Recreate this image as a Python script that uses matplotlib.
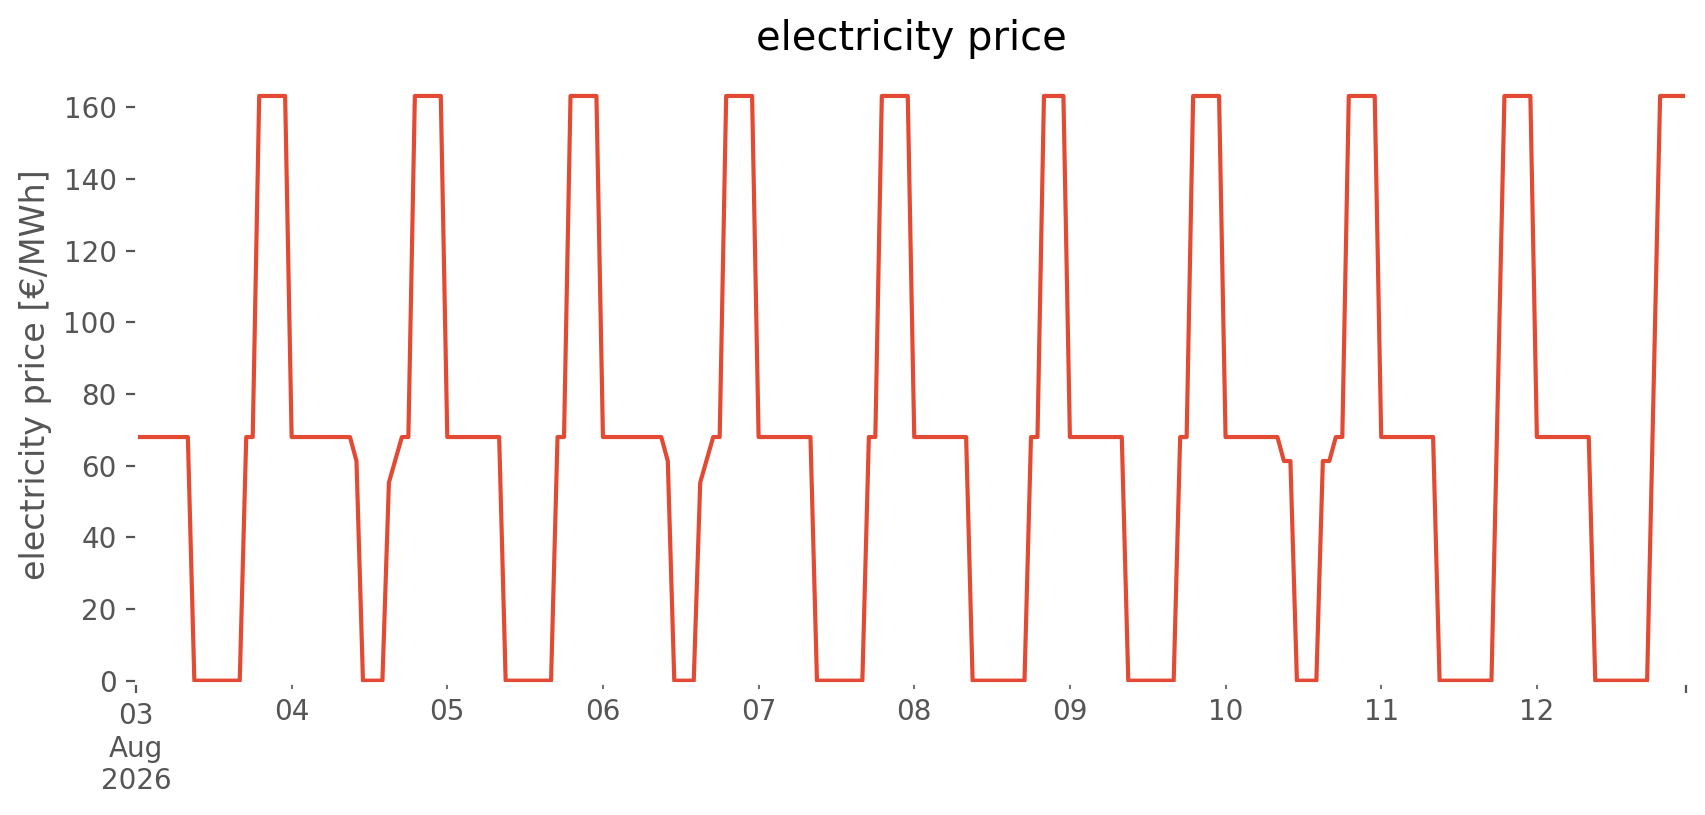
import pandas as pd
import matplotlib
matplotlib.use('Agg')
import matplotlib.pyplot as plt

plt.style.use('ggplot')

# hourly electricity price per day [€/MWh]
aug03 = [68.0, 68.0, 68.0, 68.0, 68.0, 68.0, 68.0, 68.0, 68.0, 0.0, 0.0, 0.0,
         0.0, 0.0, 0.0, 0.0, 0.0, 68.0, 68.0, 163.2, 163.2, 163.2, 163.2, 163.2]
aug04 = [68.0, 68.0, 68.0, 68.0, 68.0, 68.0, 68.0, 68.0, 68.0, 68.0, 61.3, 0.0,
         0.0, 0.0, 0.0, 55.3, 61.6, 68.0, 68.0, 163.2, 163.2, 163.2, 163.2, 163.2]
aug05 = [68.0, 68.0, 68.0, 68.0, 68.0, 68.0, 68.0, 68.0, 68.0, 0.0, 0.0, 0.0,
         0.0, 0.0, 0.0, 0.0, 0.0, 68.0, 68.0, 163.2, 163.2, 163.2, 163.2, 163.2]
aug06 = [68.0, 68.0, 68.0, 68.0, 68.0, 68.0, 68.0, 68.0, 68.0, 68.0, 61.3, 0.0,
         0.0, 0.0, 0.0, 55.3, 61.6, 68.0, 68.0, 163.2, 163.2, 163.2, 163.2, 163.2]
aug07 = [68.0, 68.0, 68.0, 68.0, 68.0, 68.0, 68.0, 68.0, 68.0, 0.0, 0.0, 0.0,
         0.0, 0.0, 0.0, 0.0, 0.0, 68.0, 68.0, 163.2, 163.2, 163.2, 163.2, 163.2]
aug08 = [68.0, 68.0, 68.0, 68.0, 68.0, 68.0, 68.0, 68.0, 68.0, 0.0, 0.0, 0.0,
         0.0, 0.0, 0.0, 0.0, 0.0, 0.0, 68.0, 68.0, 163.2, 163.2, 163.2, 163.2]
aug09 = [68.0, 68.0, 68.0, 68.0, 68.0, 68.0, 68.0, 68.0, 68.0, 0.0, 0.0, 0.0,
         0.0, 0.0, 0.0, 0.0, 0.0, 68.0, 68.0, 163.2, 163.2, 163.2, 163.2, 163.2]
aug10 = [68.0, 68.0, 68.0, 68.0, 68.0, 68.0, 68.0, 68.0, 68.0, 61.3, 61.3, 0.0,
         0.0, 0.0, 0.0, 61.3, 61.3, 68.0, 68.0, 163.2, 163.2, 163.2, 163.2, 163.2]
aug11 = [68.0, 68.0, 68.0, 68.0, 68.0, 68.0, 68.0, 68.0, 68.0, 0.0, 0.0, 0.0,
         0.0, 0.0, 0.0, 0.0, 0.0, 0.0, 81.6, 163.2, 163.2, 163.2, 163.2, 163.2]
aug12 = [68.0, 68.0, 68.0, 68.0, 68.0, 68.0, 68.0, 68.0, 68.0, 0.0, 0.0, 0.0,
         0.0, 0.0, 0.0, 0.0, 0.0, 0.0, 81.6, 163.2, 163.2, 163.2, 163.2, 163.2]

start = '2026-08-03 00:00'

prices = aug03 + aug04 + aug05 + aug06 + aug07 + aug08 + aug09 + aug10 + aug11 + aug12
index = pd.date_range(start, periods=len(prices), freq='h')
price = pd.Series(prices, index=index)

fig = plt.figure(figsize=(8.53, 4.075), dpi=200)
ax = fig.add_axes([0.0797, 0.1622, 0.9086, 0.7561])
price.plot(ax=ax)

ax.set_facecolor('white')
ax.grid(False)
ax.set_ylim(-0.6, 171.4)
ax.set_title('electricity price')
ax.set_ylabel('electricity price [€/MWh]')
ax.set_xlabel('')

fig.savefig('out.png', dpi=200)
